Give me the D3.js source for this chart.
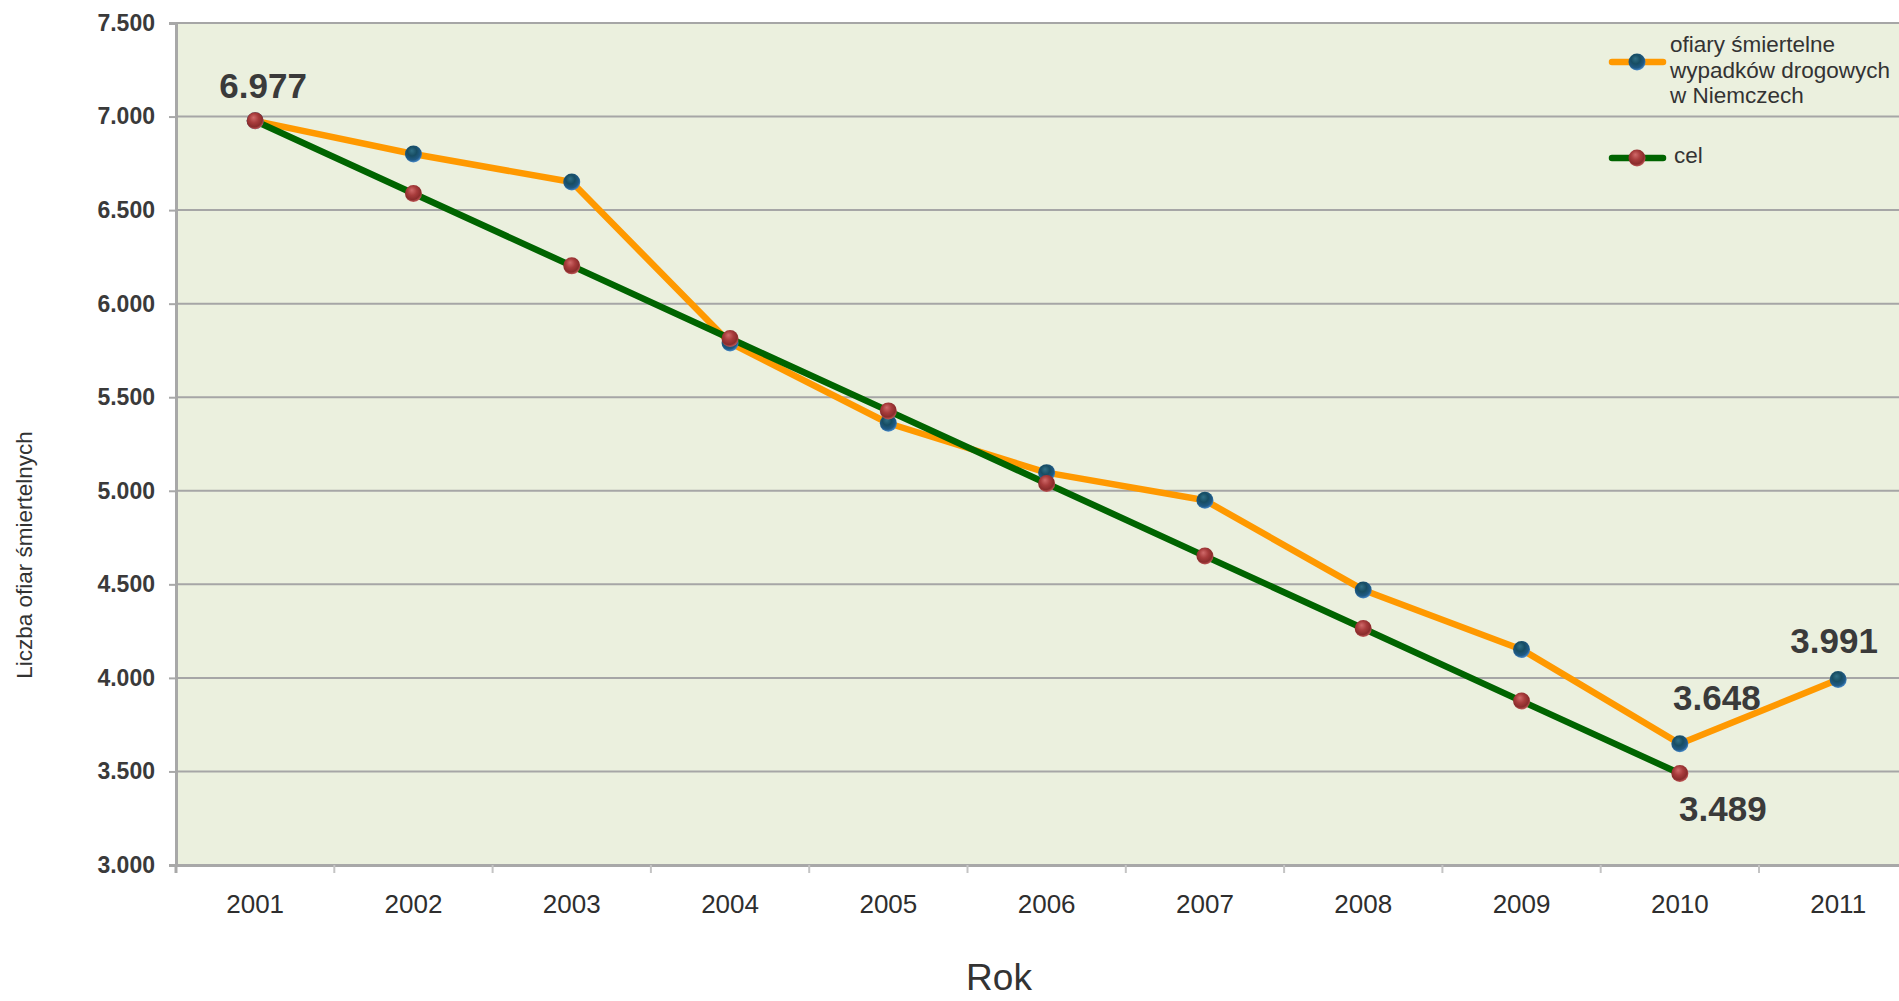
<!DOCTYPE html>
<html lang="pl">
<head>
<meta charset="utf-8">
<title>Ofiary śmiertelne wypadków drogowych w Niemczech</title>
<script src="https://cdn.jsdelivr.net/npm/d3@7/dist/d3.min.js"></script>
<style>
  html, body { margin: 0; padding: 0; background: #ffffff; }
  svg { display: block; font-family: "Liberation Sans", Arial, sans-serif; }
</style>
</head>
<body>
<svg id="chart" width="1899" height="1001"></svg>
<script>
// Road deaths in Germany against the reduction target
const years = ["2001", "2002", "2003", "2004", "2005", "2006", "2007", "2008", "2009", "2010", "2011"];
const fatalities = [6977, 6800, 6650, 5790, 5361, 5097, 4949, 4470, 4152, 3648, 3991];
const target = [6977, 6589, 6202, 5814, 5427, 5039, 4651, 4264, 3876, 3489];
const yTicks = [3000, 3500, 4000, 4500, 5000, 5500, 6000, 6500, 7000, 7500];
const legendLines = [["ofiary śmiertelne", "wypadków drogowych", "w Niemczech"], ["cel"]];
// which points carry a value label: [series index, year]
const labelled = [[0, "2001"], [0, "2010"], [1, "2010"], [0, "2011"]];

const plPL = d3.formatLocale({ decimal: ",", thousands: ".", grouping: [3], currency: ["", " zł"] });
const fmt = plPL.format(",.0f");

const svg = d3.select("#chart");
const margin = { left: 176, top: 23 };
const band = 158.3;
const plotW = band * years.length;
const plotH = 842;

const x = d3.scaleBand().domain(years).range([margin.left, margin.left + plotW]).padding(0);
const cx = d => x(d) + x.bandwidth() / 2;
const y = d3.scaleLinear().domain([3000, 7500]).range([margin.top + plotH, margin.top]);

// gradients for the ball markers
const defs = svg.append("defs");
function ball(id, stops) {
  const g = defs.append("radialGradient").attr("id", id)
    .attr("cx", "45%").attr("cy", "40%").attr("r", "60%").attr("fx", "40%").attr("fy", "30%");
  stops.forEach(([o, c]) => g.append("stop").attr("offset", o).attr("stop-color", c));
}
ball("ballBlue", [["0%", "#2f6f86"], ["45%", "#174d63"], ["80%", "#1f5a86"], ["100%", "#4a8ccc"]]);
ball("ballRed", [["0%", "#d06a6a"], ["45%", "#a83c3c"], ["80%", "#8a2c2c"], ["100%", "#c25a5a"]]);

// plot background
svg.append("rect")
  .attr("x", margin.left).attr("y", margin.top)
  .attr("width", plotW).attr("height", plotH)
  .attr("fill", "#ebf0de");

// y axis with Polish thousand separators
const yAxis = d3.axisLeft(y).tickValues(yTicks).tickFormat(fmt).tickSize(7).tickPadding(14);
const gy = svg.append("g").attr("transform", `translate(${margin.left},0)`).call(yAxis);
gy.select(".domain").attr("stroke", "#a8a8a8").attr("stroke-width", 3);
gy.selectAll(".tick line").attr("stroke", "#a8a8a8").attr("stroke-width", 2);
gy.selectAll(".tick text")
  .attr("fill", "#3a3a3a").attr("font-size", 23).attr("font-weight", "bold")
  .attr("font-family", "'Liberation Sans', Arial, sans-serif");

// horizontal grid lines
svg.append("g").selectAll("line").data(yTicks.filter(v => v > 3000)).join("line")
  .attr("x1", margin.left).attr("x2", margin.left + plotW)
  .attr("y1", d => y(d)).attr("y2", d => y(d))
  .attr("stroke", "#a6a6a6").attr("stroke-width", 2);

// x axis
const gx = svg.append("g").attr("transform", `translate(0,${margin.top + plotH})`)
  .call(d3.axisBottom(x).tickSize(0).tickPadding(30));
gx.select(".domain").attr("stroke", "#a8a8a8").attr("stroke-width", 3);
gx.selectAll(".tick text")
  .attr("fill", "#2e2e2e").attr("font-size", 26)
  .attr("font-family", "'Liberation Sans', Arial, sans-serif");
// category boundary ticks
gx.append("g").selectAll("line").data(years.slice(1)).join("line")
  .attr("x1", d => x(d)).attr("x2", d => x(d))
  .attr("y1", 0).attr("y2", 8)
  .attr("stroke", "#c4c4c4").attr("stroke-width", 2);
gx.append("line").attr("x1", margin.left).attr("x2", margin.left)
  .attr("y1", 0).attr("y2", 8).attr("stroke", "#a8a8a8").attr("stroke-width", 3);

// axis titles
svg.append("text")
  .attr("transform", "translate(32,555) rotate(-90)")
  .attr("text-anchor", "middle")
  .attr("fill", "#333333").attr("font-size", 22.5)
  .text("Liczba ofiar śmiertelnych");
svg.append("text")
  .attr("x", 999).attr("y", 990)
  .attr("text-anchor", "middle")
  .attr("fill", "#333333").attr("font-size", 37)
  .text("Rok");

// lines
const line = d3.line().x(d => cx(d.year)).y(d => y(d.value));
const actualPts = years.map((yr, i) => ({ year: yr, value: fatalities[i] }));
const targetPts = target.map((v, i) => ({ year: years[i], value: v }));

svg.append("path").datum(actualPts).attr("d", line)
  .attr("fill", "none").attr("stroke", "#ff9900").attr("stroke-width", 6.5)
  .attr("stroke-linejoin", "round");
svg.append("path").datum(targetPts).attr("d", line)
  .attr("fill", "none").attr("stroke", "#006400").attr("stroke-width", 6.5)
  .attr("stroke-linejoin", "round");

// markers
svg.append("g").selectAll("circle").data(actualPts).join("circle")
  .attr("cx", d => cx(d.year)).attr("cy", d => y(d.value)).attr("r", 8.5)
  .attr("fill", "url(#ballBlue)");
svg.append("g").selectAll("circle").data(targetPts).join("circle")
  .attr("cx", d => cx(d.year)).attr("cy", d => y(d.value)).attr("r", 8.5)
  .attr("fill", "url(#ballRed)");

// value labels
const labelOffset = {
  "0-2001": [8, -23],
  "0-2010": [37, -34],
  "1-2010": [43, 47],
  "0-2011": [-4, -27]
};
svg.append("g").selectAll("text").data(labelled).join("text")
  .attr("x", d => cx(d[1]) + labelOffset[d[0] + "-" + d[1]][0])
  .attr("y", d => {
    const v = (d[0] === 0 ? fatalities : target)[years.indexOf(d[1])];
    return y(v) + labelOffset[d[0] + "-" + d[1]][1];
  })
  .attr("text-anchor", "middle")
  .attr("fill", "#3a3a3a").attr("font-size", 35).attr("font-weight", "bold")
  .text(d => fmt((d[0] === 0 ? fatalities : target)[years.indexOf(d[1])]));

// legend
const legend = svg.append("g");
const legendItems = [
  { color: "#ff9900", ball: "url(#ballBlue)", lineY: 62, textY: 52, lines: legendLines[0] },
  { color: "#006400", ball: "url(#ballRed)", lineY: 158, textY: 163, lines: legendLines[1] }
];
legendItems.forEach(it => {
  legend.append("line").attr("x1", 1612).attr("x2", 1663)
    .attr("y1", it.lineY).attr("y2", it.lineY)
    .attr("stroke", it.color).attr("stroke-width", 6.5).attr("stroke-linecap", "round");
  legend.append("circle").attr("cx", 1637).attr("cy", it.lineY).attr("r", 8.5).attr("fill", it.ball);
  const t = legend.append("text").attr("fill", "#333333").attr("font-size", 22.5);
  it.lines.forEach((s, i) => {
    t.append("tspan").attr("x", it.lines.length > 1 ? 1670 : 1674).attr("y", it.textY + i * 25.5).text(s);
  });
});
</script>
</body>
</html>
